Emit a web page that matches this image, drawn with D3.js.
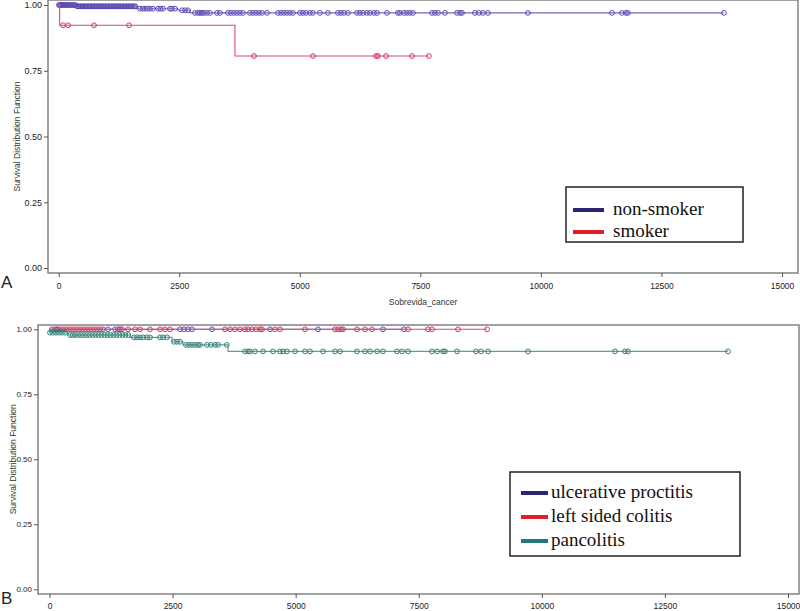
<!DOCTYPE html>
<html><head><meta charset="utf-8">
<script src="https://cdn.jsdelivr.net/npm/d3@7"></script>
<style>body{margin:0;background:#fff}svg{display:block}
.sans{font-family:"Liberation Sans", Arial, Helvetica, sans-serif}
.serif{font-family:"Liberation Serif", "Times New Roman", Times, "DejaVu Serif", serif}
</style>
</head><body>
<svg id="c" width="800" height="611"></svg>
<script>
// ---- data ----
const xTicks = [0, 2500, 5000, 7500, 10000, 12500, 15000];
const yTicks = [0, 0.25, 0.5, 0.75, 1];

// Panel A
const nonSmokerStepTimes = [359, 1623, 2473, 2722];
const nonSmokerStepSurv = [0.995, 0.986, 0.980, 0.970];
const nonSmokerEnd = 13796;
const nonSmokerCensor = [5, 25, 48, 70, 95, 120, 150, 175, 205, 230, 260, 290, 320, 345,
  380, 410, 440, 465, 495, 520, 550, 580, 610, 640, 665, 700, 730, 760, 790, 820, 850, 885, 915, 945, 980, 1010, 1040, 1075, 1105, 1140, 1170, 1200, 1235, 1265, 1300, 1330, 1365, 1395, 1430, 1460, 1490, 1525, 1560, 1590,
  1685, 1740, 1789, 1840, 1893, 1955, 2059, 2110, 2162, 2308, 2349, 2411,
  2559, 2621, 2683,
  2826, 2888, 2930, 2971, 3013, 3075, 3137, 3282, 3344, 3510, 3572, 3635, 3697, 3759, 3821, 3966, 4028, 4091, 4153, 4215, 4319, 4547, 4609, 4671, 4733, 4796, 4858, 5003, 5065, 5127, 5210, 5272, 5417, 5583, 5791, 5853, 5915, 5998, 6185, 6247, 6309, 6392, 6454, 6537, 6600, 6807, 7035, 7077, 7160, 7222, 7284, 7347, 7741, 7803, 7866, 8011, 8260, 8322, 8363, 8632, 8715, 8798, 8902, 9731, 11473, 11680, 11763, 11805, 13796];

const smokerStepTimes = [20, 3655];
const smokerStepSurv = [0.923, 0.806];
const smokerEnd = 7678;
const smokerCensor = [89, 193, 732, 1458, 4050, 5273, 6580, 6622, 6788, 7325, 7678];

// Panel B
const proctitisStepTimes = [];
const proctitisStepSurv = [];
const proctitisEnd = 7200;
const proctitisCensor = [51, 152, 1087, 1188, 1331, 1432, 2651, 2732, 2813, 2895, 3301, 4479, 5454, 6774, 7200];

const leftSidedStepTimes = [];
const leftSidedStepSurv = [];
const leftSidedEnd = 8887;
const leftSidedCensor = [112, 173, 234, 295, 355, 416, 477, 538, 599, 660, 721, 782, 843, 904, 965, 1026, 1391, 1473, 1595, 1737, 1838, 2041, 2245, 2346, 2448, 3565, 3667, 3768, 3870, 3971, 4032, 4113, 4195, 4276, 4316, 4581, 4682, 5190, 5799, 5860, 5921, 5962, 6246, 6409, 6551, 7282, 7688, 7769, 8297, 8887];

const pancolitisStepTimes = [0, 376, 1635, 2488, 2712, 3626];
const pancolitisStepSurv = [0.987, 0.978, 0.969, 0.952, 0.940, 0.915];
const pancolitisEnd = 13782;
const pancolitisCensor = [10, 71, 132, 193, 254, 315,
  420, 470, 520, 580, 640, 700, 760, 820, 880, 940, 1000, 1060, 1120, 1180, 1240, 1300, 1360, 1420, 1480, 1540, 1600,
  1717, 1778, 1839, 1900, 1981, 2041, 2245, 2306, 2387,
  2529, 2590, 2651,
  2773, 2834, 2895, 2956, 3017, 3057, 3199, 3281, 3362, 3423, 3600,
  3971, 4032, 4073, 4174, 4337, 4540, 4682, 4743, 4824, 4987, 5190, 5291, 5555, 5799, 5901, 6246, 6409, 6510, 6652, 6774, 7058, 7160, 7282, 7769, 7871, 7993, 8033, 8277, 8663, 8765, 8907, 9719, 11486, 11689, 11750, 13782];

const legendA = ["non-smoker", "smoker"];
const legendB = ["ulcerative proctitis", "left sided colitis", "pancolitis"];

// ---- drawing ----
const svg = d3.select("#c");

function survAt(stepT, stepS, t) {
  let s = 1;
  for (let i = 0; i < stepT.length; i++) if (t >= stepT[i]) s = stepS[i];
  return s;
}

function panel(cfg) {
  const g = svg.append("g");
  const x = d3.scaleLinear().domain([0, 15000]).range(cfg.xr);
  const y = d3.scaleLinear().domain([0, 1]).range(cfg.yr);
  g.append("rect").attr("x", cfg.frame[0]).attr("y", cfg.frame[1])
    .attr("width", cfg.frame[2] - cfg.frame[0]).attr("height", cfg.frame[3] - cfg.frame[1])
    .attr("fill", "none").attr("stroke", "#7a7a7a").attr("stroke-width", 1.4);
  const ya = d3.axisLeft(y).tickValues(yTicks).tickFormat(d3.format(".2f")).tickSize(4).tickSizeOuter(0);
  const yg = g.append("g").attr("transform", `translate(${cfg.frame[0]},0)`).call(ya);
  yg.attr("font-family", null).attr("font-size", null);
  yg.select(".domain").remove();
  yg.selectAll("line").attr("stroke", "#555");
  yg.selectAll("text").attr("class", "sans").style("font-size", cfg.yTickFont).attr("fill", "#222").attr("x", -6);
  const xa = d3.axisBottom(x).tickValues(xTicks).tickFormat(d3.format("d")).tickSize(4).tickSizeOuter(0);
  const xg = g.append("g").attr("transform", `translate(0,${cfg.frame[3]})`).call(xa);
  xg.attr("font-family", null).attr("font-size", null);
  xg.select(".domain").remove();
  xg.selectAll("line").attr("stroke", "#555");
  xg.selectAll("text").attr("class", "sans").style("font-size", "8.5px").attr("fill", "#222").attr("y", cfg.xLabelDy).attr("dy", 0);
  g.append("text").attr("class", "sans").attr("transform", `translate(${cfg.yLabX},${(y(0) + y(1)) / 2}) rotate(-90)`)
    .attr("text-anchor", "middle").attr("dy", "0.35em").style("font-size", "8.5px").attr("fill", "#333")
    .text("Survival Distribution Function");
  const line = d3.line().x(d => x(d[0])).y(d => y(d[1])).curve(d3.curveStepAfter);
  cfg.series.forEach(s => {
    const pts = [[0, 1]];
    s.t.forEach((t, i) => pts.push([t, s.s[i]]));
    pts.push([s.end, s.s.length ? s.s[s.s.length - 1] : 1]);
    g.append("path").attr("d", line(pts)).attr("fill", "none").attr("stroke", s.line).attr("stroke-width", 1.1);
    g.append("g").selectAll("circle").data(s.c).join("circle")
      .attr("cx", d => x(d)).attr("cy", d => y(survAt(s.t, s.s, d))).attr("r", 2.4)
      .attr("fill", "none").attr("stroke", s.mark).attr("stroke-width", 0.95);
  });
  const L = cfg.legend;
  g.append("rect").attr("x", L.box[0]).attr("y", L.box[1]).attr("width", L.box[2]).attr("height", L.box[3])
    .attr("fill", "#fff").attr("stroke", "#222").attr("stroke-width", 1.5);
  L.names.forEach((n, i) => {
    const yy = L.y0 + i * L.dy;
    g.append("line").attr("x1", L.sx[0]).attr("x2", L.sx[1]).attr("y1", yy).attr("y2", yy)
      .attr("stroke", L.colors[i]).attr("stroke-width", 4);
    g.append("text").attr("class", "serif").attr("x", L.tx).attr("y", yy + 4.5).style("font-size", "19px")
      .attr("fill", "#111").text(n);
  });
  g.append("text").attr("class", "sans").attr("x", cfg.letter[0]).attr("y", cfg.letter[1])
    .style("font-size", "17px").attr("fill", "#222").text(cfg.letter[2]);
  return { g, x, y };
}

const A = panel({
  xr: [58.7, 782], yr: [268, 5], frame: [48, 0, 798, 273], xLabelDy: 16, yLabX: 17, yTickFont: "9px",
  series: [
    { t: nonSmokerStepTimes, s: nonSmokerStepSurv, end: nonSmokerEnd, c: nonSmokerCensor, line: "#7068c6", mark: "#5546ad" },
    { t: smokerStepTimes, s: smokerStepSurv, end: smokerEnd, c: smokerCensor, line: "#d84a70", mark: "#cc3358" }
  ],
  legend: { box: [566, 187, 177, 55], names: legendA, colors: ["#2b2670", "#e02027"], y0: 210, dy: 22, sx: [573, 604], tx: 613 },
  letter: [1, 288, "A"]
});
A.g.append("text").attr("class", "sans").attr("x", (48 + 798) / 2).attr("y", 305).attr("text-anchor", "middle")
  .style("font-size", "8.5px").attr("fill", "#333").text("Sobrevida_cancer");

panel({
  xr: [49.5, 788], yr: [589.3, 329.3], frame: [38, 325, 799, 594], xLabelDy: 15, yLabX: 13, yTickFont: "8px",
  series: [
    { t: proctitisStepTimes, s: proctitisStepSurv, end: proctitisEnd, c: proctitisCensor, line: "#7068c6", mark: "#5546ad" },
    { t: leftSidedStepTimes, s: leftSidedStepSurv, end: leftSidedEnd, c: leftSidedCensor, line: "#d84a70", mark: "#cc3358" },
    { t: pancolitisStepTimes, s: pancolitisStepSurv, end: pancolitisEnd, c: pancolitisCensor, line: "#5e9f9b", mark: "#2c7c72" }
  ],
  legend: { box: [510, 472, 230, 84], names: legendB, colors: ["#2b2670", "#e02027", "#1f7b7a"], y0: 493, dy: 24, sx: [521, 548], tx: 551 },
  letter: [1, 604, "B"]
});
</script>
</body></html>
